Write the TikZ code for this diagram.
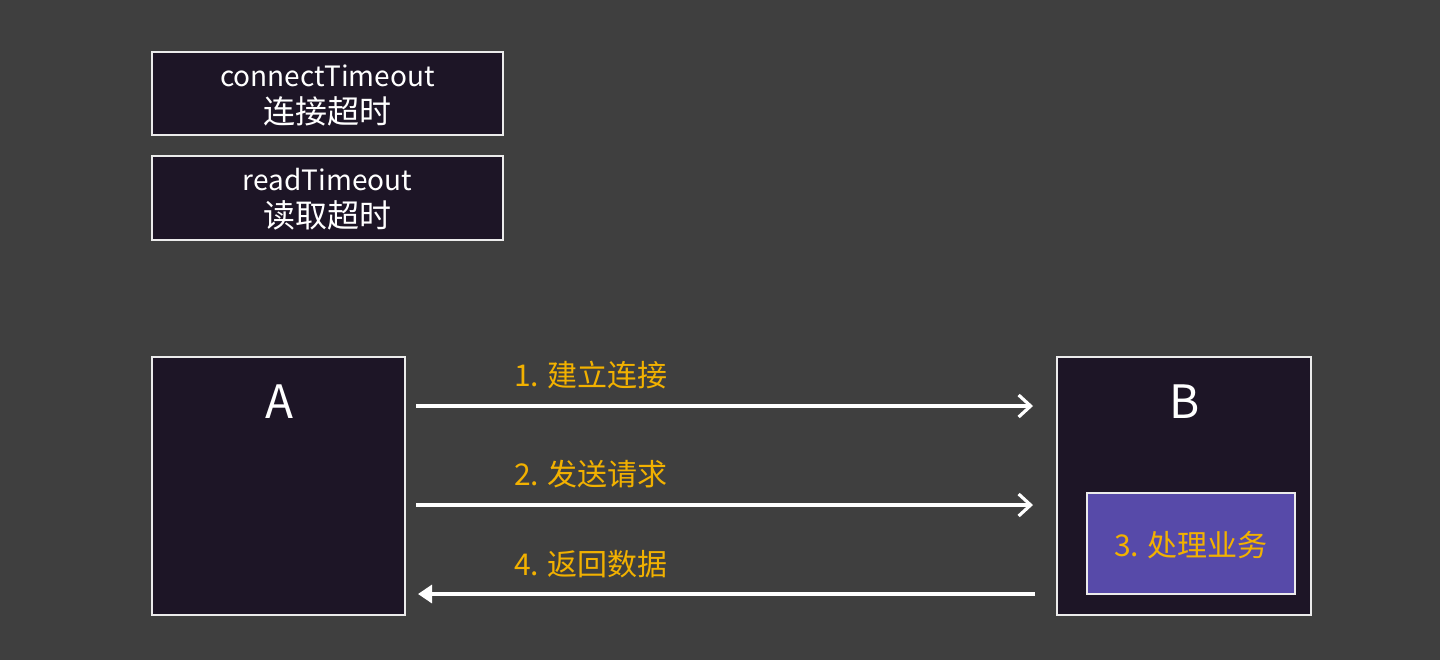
\documentclass[tikz,border=0pt]{standalone}
\usepackage{fontspec}
\setmainfont{Noto Sans CJK SC}
\usetikzlibrary{arrows.meta}
\definecolor{bgc}{HTML}{3F3F3F}
\definecolor{boxc}{HTML}{1D1526}
\definecolor{purp}{HTML}{574AA9}
\definecolor{gold}{HTML}{F2B100}
\tikzset{
  darkbox/.style={draw=white!92!black, line width=1pt, fill=boxc, inner sep=0pt},
  toptext/.style={text=white, align=center, font=\fontsize{14}{18.5}\selectfont},
  big/.style={text=white, font=\fontsize{23}{26}\selectfont},
  lbl/.style={text=gold, font=\fontsize{15}{18}\selectfont},
  conn/.style={draw=white, line width=1.6pt},
}
\newcommand{\cjkbig}[1]{{\fontsize{16}{18.5}\selectfont #1}}
\begin{document}
\begin{tikzpicture}[x=0.5pt,y=-0.5pt]
\fill[bgc] (0,0) rectangle (1440,660);
\useasboundingbox (0,0) rectangle (1440,660);
% top boxes
\node[darkbox, minimum width=175.5pt, minimum height=41.5pt] (ct) at (327.5,93.5) {};
\node[toptext] (ctt) at (327.5,95) {connectTimeout\\\cjkbig{连接超时}};
\node[darkbox, minimum width=175.5pt, minimum height=42pt] (rt) at (327.5,198) {};
\node[toptext] (rtt) at (327.5,199) {readTimeout\\\cjkbig{读取超时}};
% A and B
\node[darkbox, minimum width=126.5pt, minimum height=129pt] (A) at (278.5,486) {};
\node[big] (Al) at (279,402) {A};
\node[darkbox, minimum width=127pt, minimum height=129pt] (B) at (1184,486) {};
\node[big] (Bl) at (1185,402) {B};
\node[draw=white!92!black, line width=1pt, fill=purp, minimum width=104pt, minimum height=50.5pt, inner sep=0pt] (P) at (1191,543.5) {};
\node[lbl] (Pl) at (1191,545) {3. 处理业务};
% arrows
\coordinate (a1s) at (416,406); \coordinate (a1e) at (1033,406);
\coordinate (a2s) at (416,505); \coordinate (a2e) at (1033,505);
\coordinate (a4s) at (1035,594); \coordinate (a4e) at (418,594);
\draw[conn, -{Straight Barb[length=6pt,width=11pt,line width=1.6pt]}] (a1s) -- (a1e);
\draw[conn, -{Straight Barb[length=6pt,width=11pt,line width=1.6pt]}] (a2s) -- (a2e);
\draw[conn, -{Triangle[length=7pt,width=9pt]}] (a4s) -- (a4e);
\node[lbl] (l1) at (591,375) {1. 建立连接};
\node[lbl] (l2) at (591,474) {2. 发送请求};
\node[lbl] (l4) at (591,564) {4. 返回数据};
\end{tikzpicture}
\end{document}
